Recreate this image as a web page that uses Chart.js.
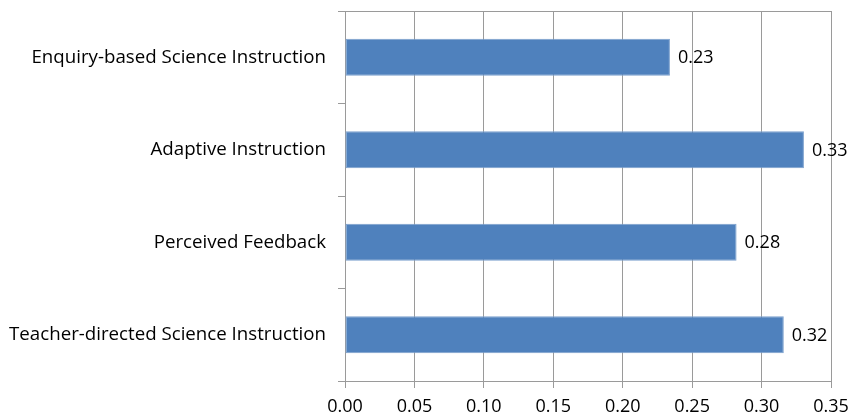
<!DOCTYPE html>
<html>
    <head>
        <meta http-equiv="Content-Type" content="text/html; charset=UTF-8">
        <title>Instruction effects</title>
        <script src="https://cdn.jsdelivr.net/npm/chart.js@4/dist/chart.umd.min.js"></script>
        <style type="text/css">
            html, body { margin: 0; padding: 0; background: #fff; }
            .container { width: 851px; height: 417px; }
        </style>
    </head>
    <body>
        <div class="container">
            <canvas id="effects"></canvas>
        </div>

        <script>
            //data
            var categories = [
                'Enquiry-based Science Instruction',
                'Adaptive Instruction',
                'Perceived Feedback',
                'Teacher-directed Science Instruction'
            ];
            var effectValues = [0.234, 0.3305, 0.282, 0.316];
            var effectLabels = ['0.23', '0.33', '0.28', '0.32'];
            var xTickMin = 0;
            var xTickMax = 0.35;
            var xTickStep = 0.05;

            var fontName = "'Open Sans', sans-serif";

            //writes the value next to the end of each bar
            var valueLabels = {
                id: 'valueLabels',
                afterDatasetsDraw: function (chart) {
                    var ctx = chart.ctx;
                    var meta = chart.getDatasetMeta(0);
                    ctx.save();
                    ctx.font = '18px ' + fontName;
                    ctx.fillStyle = '#000';
                    ctx.textAlign = 'left';
                    ctx.textBaseline = 'middle';
                    for (var i = 0; i < meta.data.length; i++) {
                        var bar = meta.data[i];
                        ctx.fillText(effectLabels[i], bar.x + 8, bar.y + 1);
                    }
                    ctx.restore();
                }
            };

            //line along the top of the plot area, with its little tick
            var topLine = {
                id: 'topLine',
                afterDraw: function (chart) {
                    var ctx = chart.ctx;
                    var area = chart.chartArea;
                    ctx.save();
                    ctx.strokeStyle = '#9a9a9a';
                    ctx.lineWidth = 1;
                    ctx.beginPath();
                    ctx.moveTo(area.left - 7, Math.round(area.top) + 0.5);
                    ctx.lineTo(area.right, Math.round(area.top) + 0.5);
                    ctx.stroke();
                    ctx.restore();
                }
            };

            var chart = new Chart(document.getElementById('effects').getContext('2d'), {
                type: 'bar',
                data: {
                    labels: categories,
                    datasets: [{
                        data: effectValues,
                        backgroundColor: '#4F81BD',
                        borderColor: '#7BA0CD',
                        borderWidth: 1,
                        borderSkipped: false,
                        categoryPercentage: 1,
                        barPercentage: 0.4
                    }]
                },
                options: {
                    indexAxis: 'y',
                    responsive: true,
                    maintainAspectRatio: false,
                    animation: false,
                    layout: { padding: { top: 11, right: 20, bottom: 0, left: 0 } },
                    plugins: {
                        legend: { display: false },
                        tooltip: { enabled: false }
                    },
                    scales: {
                        x: {
                            min: xTickMin,
                            max: xTickMax,
                            ticks: {
                                stepSize: xTickStep,
                                color: '#000',
                                font: { family: fontName, size: 18 },
                                padding: 8,
                                callback: function (value) { return Number(value).toFixed(2); }
                            },
                            grid: { color: '#9a9a9a', tickLength: 7, tickColor: '#9a9a9a' },
                            border: { color: '#9a9a9a' },
                            afterFit: function (scale) {
                                scale.height = 36;
                                scale.paddingLeft = 0;
                                scale.paddingRight = 0;
                            }
                        },
                        y: {
                            ticks: {
                                color: '#000',
                                font: { family: fontName, size: 18.7 },
                                padding: 12
                            },
                            grid: { drawOnChartArea: false, offset: true, tickLength: 7, color: '#9a9a9a' },
                            border: { color: '#9a9a9a' },
                            afterFit: function (scale) {
                                scale.width = 345;
                                scale.paddingTop = 0;
                                scale.paddingBottom = 0;
                            }
                        }
                    }
                },
                plugins: [valueLabels, topLine]
            });
        </script>
    </body>
</html>
